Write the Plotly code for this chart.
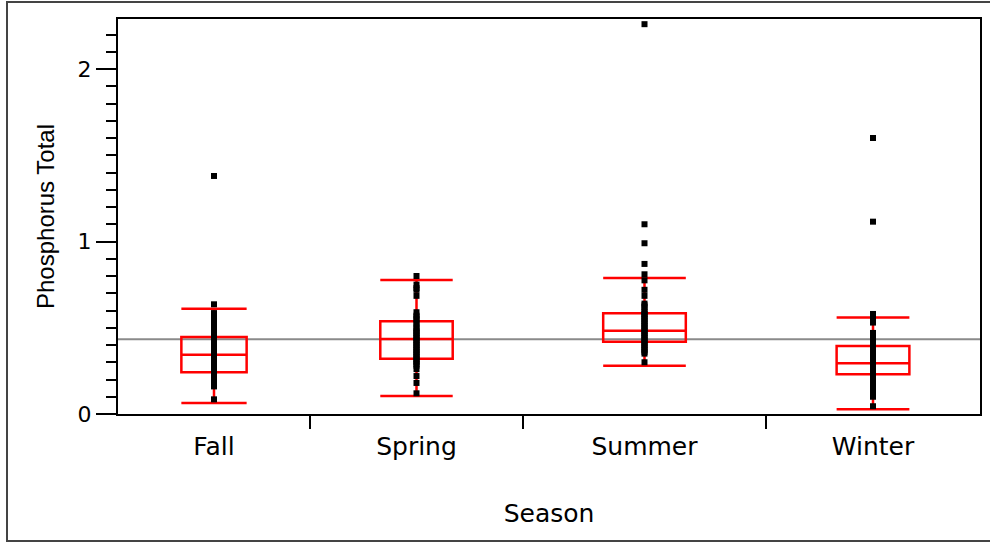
import plotly.graph_objects as go

# ---- data -------------------------------------------------------------
seasons = ["Fall", "Spring", "Summer", "Winter"]

fall_values = [1.38, 0.636, 0.585, 0.56, 0.54, 0.52, 0.50, 0.48, 0.47, 0.45,
               0.44, 0.43, 0.42, 0.40, 0.39, 0.38, 0.37, 0.36, 0.35, 0.34,
               0.33, 0.32, 0.31, 0.30, 0.29, 0.28, 0.27, 0.26, 0.25, 0.24,
               0.23, 0.22, 0.21, 0.20, 0.19, 0.18, 0.17, 0.16, 0.085]
spring_values = [0.80, 0.75, 0.73, 0.72, 0.685, 0.59, 0.57, 0.56, 0.55, 0.53,
                 0.52, 0.50, 0.49, 0.48, 0.47, 0.46, 0.45, 0.44, 0.43, 0.42,
                 0.41, 0.40, 0.39, 0.38, 0.37, 0.36, 0.35, 0.34, 0.33, 0.32,
                 0.31, 0.30, 0.29, 0.28, 0.26, 0.22, 0.18, 0.12]
summer_values = [2.26, 1.10, 0.99, 0.87, 0.81, 0.775, 0.72, 0.685, 0.64, 0.63,
                 0.62, 0.60, 0.59, 0.58, 0.57, 0.56, 0.55, 0.54, 0.53, 0.52,
                 0.51, 0.50, 0.49, 0.48, 0.47, 0.46, 0.45, 0.44, 0.43, 0.42,
                 0.41, 0.40, 0.39, 0.38, 0.37, 0.36, 0.35, 0.30]
winter_values = [1.60, 1.115, 0.58, 0.56, 0.53, 0.47, 0.45, 0.43, 0.41, 0.40,
                 0.38, 0.37, 0.35, 0.34, 0.32, 0.30, 0.27, 0.25, 0.23, 0.21,
                 0.19, 0.17, 0.15, 0.13, 0.11, 0.10, 0.045]

# box-plot summaries per season
q1 = [0.242, 0.321, 0.419, 0.230]
median = [0.344, 0.435, 0.483, 0.294]
q3 = [0.446, 0.537, 0.584, 0.394]
lower_whisker = [0.064, 0.104, 0.280, 0.027]
upper_whisker = [0.610, 0.777, 0.788, 0.560]

grand_mean = 0.433

# ---- layout constants ---------------------------------------------------
W, H = 990, 542
M_L, M_R, M_T, M_B = 118, 10, 19, 128
group_span = [192, 213, 243, 214]     # relative width of each season column
box_frac = 0.34

edges = [0]
for s in group_span:
    edges.append(edges[-1] + s)
centers = [(edges[i] + edges[i + 1]) / 2 for i in range(len(seasons))]
total = edges[-1]

RED = "#ff0000"
series = [fall_values, spring_values, summer_values, winter_values]

fig = go.Figure()

for i, name in enumerate(seasons):
    fig.add_trace(go.Box(
        x=[centers[i]],
        q1=[q1[i]], median=[median[i]], q3=[q3[i]],
        lowerfence=[lower_whisker[i]], upperfence=[upper_whisker[i]],
        width=group_span[i] * box_frac,
        whiskerwidth=1,
        boxpoints=False,
        line=dict(color=RED, width=2.5),
        fillcolor="rgba(0,0,0,0)",
        name=name,
        showlegend=False,
        hoverinfo="skip",
    ))

for i, name in enumerate(seasons):
    fig.add_trace(go.Scatter(
        x=[centers[i]] * len(series[i]),
        y=series[i],
        mode="markers",
        marker=dict(symbol="square", size=6, color="black", line=dict(width=0)),
        name=name,
        showlegend=False,
    ))

plot_w = W - M_L - M_R
plot_h = H - M_T - M_B

shapes = [
    # grand mean reference line
    dict(type="line", xref="paper", yref="y", x0=0, x1=1, y0=grand_mean, y1=grand_mean,
         line=dict(color="#8a8a8a", width=2), layer="below"),
    # outer frame around the figure
    dict(type="rect", xref="paper", yref="paper",
         x0=(7 - M_L) / plot_w, x1=(W + 2 - M_L) / plot_w,
         y0=-(H - 1 - M_T - plot_h) / plot_h, y1=1 + (M_T - 2) / plot_h,
         line=dict(color="#444444", width=2), fillcolor="rgba(0,0,0,0)"),
]

fig.update_layout(
    width=W, height=H,
    margin=dict(l=M_L, r=M_R, t=M_T, b=M_B),
    paper_bgcolor="white",
    plot_bgcolor="white",
    showlegend=False,
    shapes=shapes,
    xaxis=dict(
        range=[0, total],
        tickmode="array",
        tickvals=centers,
        ticktext=seasons,
        ticks="outside", ticklen=9, tickcolor="rgba(0,0,0,0)",
        minor=dict(tickmode="array", tickvals=edges[1:-1], ticks="outside",
                   ticklen=13, tickwidth=2, tickcolor="black"),
        showline=True, linecolor="black", linewidth=2, mirror=True,
        showgrid=False, zeroline=False,
        tickfont=dict(family="DejaVu Sans", size=25, color="black"),
        title=dict(text="Season", font=dict(family="DejaVu Sans", size=25, color="black"),
                   standoff=44),
        automargin=False,
    ),
    yaxis=dict(
        range=[0, 2.29],
        tickmode="linear", tick0=0, dtick=1,
        ticks="outside", ticklen=20, tickwidth=2, tickcolor="black",
        minor=dict(dtick=0.1, ticks="outside", ticklen=10, tickwidth=2, tickcolor="black"),
        showline=True, linecolor="black", linewidth=2, mirror=True,
        showgrid=False, zeroline=False,
        tickfont=dict(family="DejaVu Sans", size=22, color="black"),
        title=dict(text="Phosphorus Total",
                   font=dict(family="Liberation Sans", size=24, color="black"),
                   standoff=16),
        automargin=False,
    ),
)

fig.write_html("out.html")
